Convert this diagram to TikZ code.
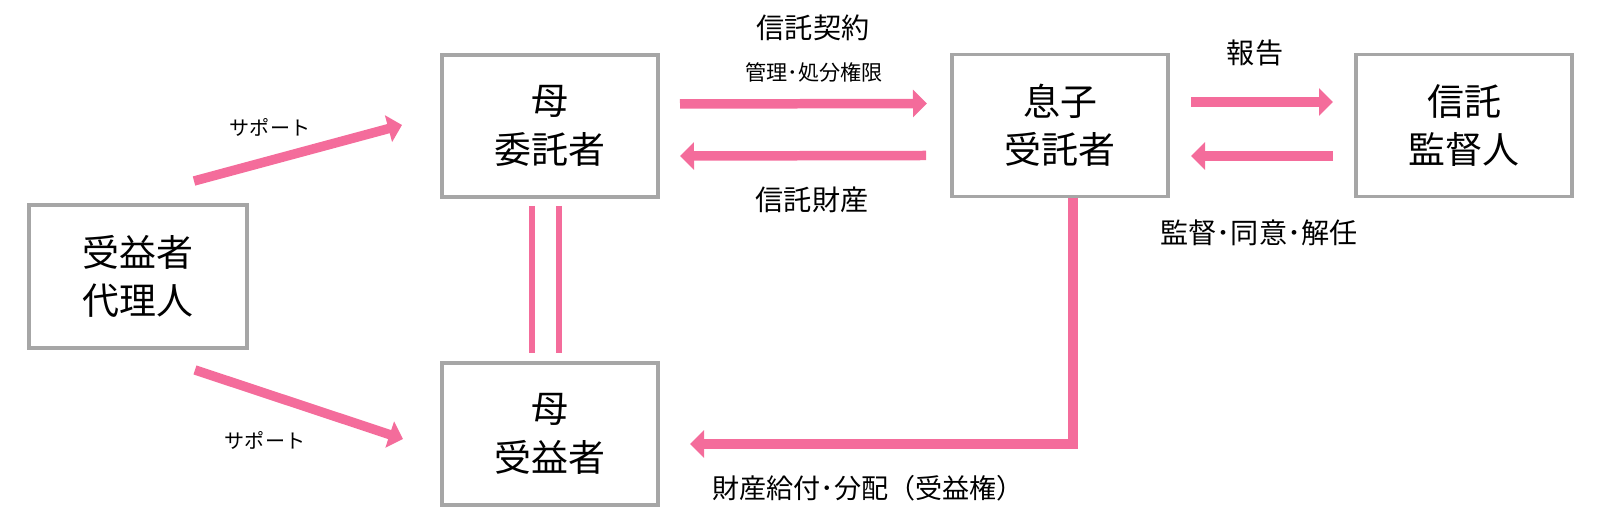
\documentclass[tikz,border=0pt]{standalone}
\usepackage{fontspec}
\setmainfont{Noto Sans CJK JP}
\usepackage{xcolor}
\definecolor{flowpink}{HTML}{F46C9B}
\definecolor{boxgray}{HTML}{A6A6A6}
\usetikzlibrary{arrows.meta,calc}
\begin{document}
\begin{tikzpicture}[x=0.01cm,y=-0.01cm,box/.style={draw=boxgray,line width=1.1pt,minimum width=2.16cm,minimum height=1.42cm,align=center,inner sep=0pt,font=\fontsize{10.5}{13.8}\selectfont},flow/.style={-{Triangle[length=.14cm,width=.27cm]},draw=flowpink,line width=2.7pt},tie/.style={draw=flowpink,line width=1.5pt},lbl/.style={font=\fontsize{8}{10}\selectfont},small/.style={font=\fontsize{6}{8}\selectfont},tiny/.style={font=\fontsize{5.7}{7}\selectfont}]
\useasboundingbox (0,0) rectangle (1599,528);
\node[box,minimum width=2.18cm,minimum height=1.43cm] (dl) at (138,276.5) {受益者\\代理人};
\node[box] (ti) at (550,126) {母\\委託者};
\node[box] (ju) at (550,434) {母\\受益者};
\node[box] (sj) at (1060,125.5) {息子\\受託者};
\node[box] (kt) at (1464,125.5) {信託\\監督人};
\draw[flow] ($(dl.north east)+(-55,-22)$)--($(ti.west)+(-38,-1)$);\draw[flow] ($(dl.south east)+(-54,20)$)--($(ju.west)+(-37,5)$);
\node[tiny] (lsa) at (270,127) {サポート};\node[tiny] (lsb) at (265,440) {サポート};
\draw[flow] ($(ti.east)+(20,-22)$)--($(sj.west)+(-23,-22)$);\draw[flow] ($(sj.west)+(-24,30)$)--($(ti.east)+(20,30)$);
\node[lbl] (lkk) at (813,28) {信託契約};\node[small] (lkg) at (814,72) {管理･処分権限};\node[lbl] (lzs) at (812,200) {信託財産};
\draw[flow] ($(sj.east)+(21,-23.5)$)--($(kt.west)+(-21,-23.5)$);\draw[flow] ($(kt.west)+(-21,30.5)$)--($(sj.east)+(21,30.5)$);
\node[lbl] (lhk) at (1255,53) {報告};\node[lbl] (lkd) at (1259,233) {監督･同意･解任};
\draw[tie] ($(ti.south)+(-18,7)$)--($(ju.north)+(-18,-8)$);\draw[tie] ($(ti.south)+(9,7)$)--($(ju.north)+(9,-8)$);
\draw[flow] ($(sj.south)+(13,0)$)|-($(ju.east)+(30,10)$);
\node[font=\fontsize{7.7}{9}\selectfont] (lzk) at (868,488) {財産給付･分配（受益権）};
\end{tikzpicture}
\end{document}
